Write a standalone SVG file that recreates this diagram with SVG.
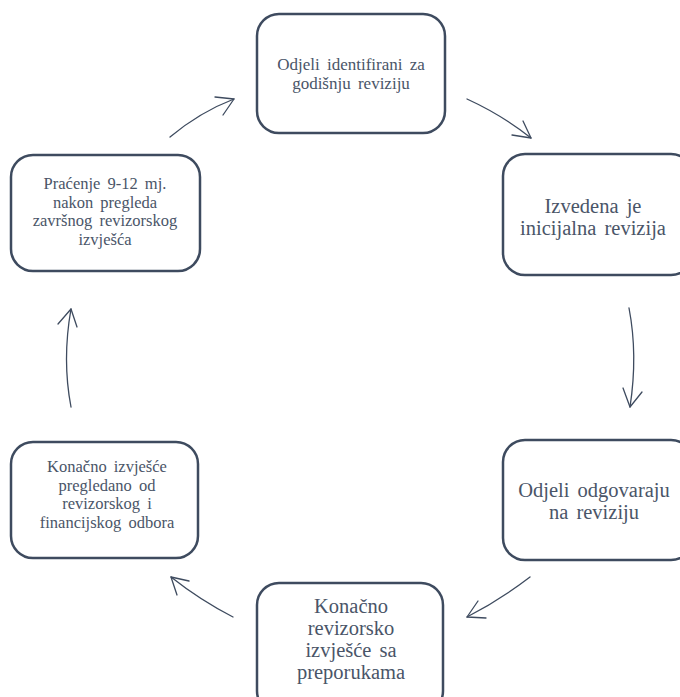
<svg xmlns="http://www.w3.org/2000/svg" width="680" height="697" viewBox="0 0 680 697">
<style>
.box{fill:#ffffff;stroke:#3e4b5f;stroke-width:2.5}
.t{font-family:'Liberation Serif','Times New Roman',serif;fill:#4a5568;text-anchor:middle;word-spacing:3px}
.c{fill:none;stroke:#3e4b5f;stroke-width:1.3;stroke-linecap:round;stroke-linejoin:round}
</style>
<rect width="680" height="697" fill="#ffffff"/>
<g id="n1"><rect class="box" x="257" y="14" width="188" height="119" rx="22"/>
<text class="t" font-size="17" x="351"><tspan x="351" y="70">Odjeli identifirani za</tspan><tspan x="351" y="89">godišnju reviziju</tspan></text></g>
<g id="n2"><rect class="box" x="503" y="154" width="190" height="121" rx="22"/>
<text class="t" font-size="20.5" x="593"><tspan x="593" y="213">Izvedena je</tspan><tspan x="593" y="235">inicijalna revizija</tspan></text></g>
<g id="n3"><rect class="box" x="503" y="440" width="190" height="120" rx="22"/>
<text class="t" font-size="20.5" x="594"><tspan x="594" y="497">Odjeli odgovaraju</tspan><tspan x="594" y="519">na reviziju</tspan></text></g>
<g id="n4"><rect class="box" x="257" y="583" width="186" height="130" rx="22"/>
<text class="t" font-size="20.5" x="351"><tspan x="351" y="613">Konačno</tspan><tspan x="351" y="635">revizorsko</tspan><tspan x="351" y="657">izvješće sa</tspan><tspan x="351" y="679">preporukama</tspan></text></g>
<g id="n5"><rect class="box" x="11" y="442" width="187" height="116" rx="22"/>
<text class="t" font-size="16.5" x="107"><tspan x="107" y="472">Konačno izvješće</tspan><tspan x="107" y="490.5">pregledano od</tspan><tspan x="107" y="509">revizorskog i</tspan><tspan x="107" y="527.5">financijskog odbora</tspan></text></g>
<g id="n6"><rect class="box" x="11" y="155" width="189" height="116" rx="22"/>
<text class="t" font-size="16.5" x="105"><tspan x="105" y="189">Praćenje 9-12 mj.</tspan><tspan x="105" y="207.5">nakon pregleda</tspan><tspan x="105" y="226">završnog revizorskog</tspan><tspan x="105" y="244.5">izvješća</tspan></text></g>
<g id="connectors">
<path class="c" d="M170 137 Q200 112 234 99"/>
<path class="c" d="M215 97 L234 99 L223 115"/>
<path class="c" d="M467 99 Q502 115 531 138"/>
<path class="c" d="M523 121 L531 138 L512 135"/>
<path class="c" d="M629 308 Q638 355 630 407"/>
<path class="c" d="M623 388 L630 407 L642 392"/>
<path class="c" d="M530 577 Q500 600 467 617"/>
<path class="c" d="M478 601 L467 617 L486 618"/>
<path class="c" d="M233 617 Q200 600 171 577"/>
<path class="c" d="M189 581 L171 577 L177 595"/>
<path class="c" d="M71 407 Q62 360 71 309"/>
<path class="c" d="M58 324 L71 309 L77 327"/>
</g>
</svg>
